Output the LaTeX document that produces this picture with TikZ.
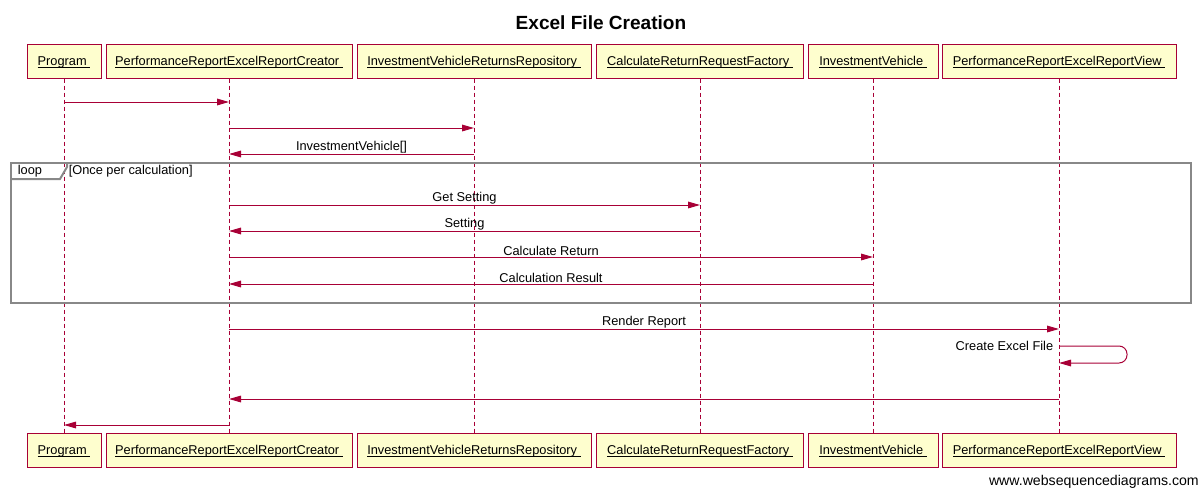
\documentclass[tikz,border=0pt]{standalone}
\usepackage{fontspec}
\setmainfont{Liberation Sans}
\usetikzlibrary{arrows.meta}
\definecolor{wsdred}{HTML}{A80036}
\definecolor{wsdfill}{HTML}{FEFECE}
\definecolor{wsdgray}{HTML}{888888}
\newsavebox{\lifebox}
\newcommand{\lifename}[1]{\sbox{\lifebox}{#1\ }\rlap{\rule[-1.6pt]{\wd\lifebox}{0.6pt}}\usebox{\lifebox}}
\tikzset{
    part/.style={draw=wsdred, fill=wsdfill, line width=0.75pt, minimum height=25.5pt,
        inner sep=0pt, text height=8pt, text depth=0.6pt, font=\fontsize{9.6}{11}\selectfont},
    life/.style={draw=wsdred, line width=0.75pt, dash pattern=on 3pt off 2.25pt},
    msg/.style={draw=wsdred, line width=0.75pt, -{Triangle[length=9pt,width=5pt]}},
    lbl/.style={font=\fontsize{9.6}{11}\selectfont, text=black, inner sep=0.4pt},
    loopbox/.style={draw=wsdgray, line width=1.5pt}
}
\begin{document}
\begin{tikzpicture}[x=0.75pt, y=-0.75pt]
    \useasboundingbox (0,0) rectangle (1201,489);
    \node[font=\bfseries\fontsize{14.3}{16}\selectfont] (title) at (601,23) {Excel File Creation};
    % participants and lifelines
    \foreach \n/\t/\x/\w in {prog/Program/64/74, crea/PerformanceReportExcelReportCreator/229/246,
        repo/InvestmentVehicleReturnsRepository/474/234, fact/CalculateReturnRequestFactory/700/207,
        veh/InvestmentVehicle/873/130, view/PerformanceReportExcelReportView/1059/234} {
        \node[part, minimum width=\w*0.75pt] (\n) at (\x,61) {\lifename{\t}};
        \node[part, minimum width=\w*0.75pt] (\n-b) at (\x,450) {\lifename{\t}};
        \draw[life] (\n.south) -- (\n-b.north);
    }
    % loop frame
    \draw[loopbox] (11,163) rectangle (1191,303);
    \draw[loopbox] (67,163) -- (67,167) -- (60,179) -- (11,179);
    \node[lbl, anchor=west] (looplbl) at (17,171) {loop};
    \node[lbl, anchor=west] (loopcond) at (68,171) {[Once per calculation]};
    % messages
    \draw[msg] (prog|-0,102) -- (crea|-0,102);
    \draw[msg] (crea|-0,128) -- (repo|-0,128);
    \draw[msg] (repo|-0,154) -- node[lbl, above] {InvestmentVehicle[]} (crea|-0,154);
    \draw[msg] (crea|-0,205) -- node[lbl, above] {Get Setting} (fact|-0,205);
    \draw[msg] (fact|-0,231) -- node[lbl, above] {Setting} (crea|-0,231);
    \draw[msg] (crea|-0,257) -- node[lbl, above] {Calculate Return} (veh|-0,257);
    \draw[msg] (veh|-0,284) -- node[lbl, above] {Calculation Result} (crea|-0,284);
    \draw[msg] (crea|-0,329) -- node[lbl, above] {Render Report} (view|-0,329);
    \draw[msg, rounded corners=6pt] (view|-0,346) node[lbl, left, inner sep=4pt] {Create Excel File}
        -- ++(68,0) -- ++(0,17) -- (view|-0,363);
    \draw[msg] (view|-0,399) -- (crea|-0,399);
    \draw[msg] (crea|-0,425) -- (prog|-0,425);
    \node[lbl, anchor=east, inner sep=0pt, font=\fontsize{10.6}{12}\selectfont] (wsd) at (1199,482) {www.websequencediagrams.com};
\end{tikzpicture}
\end{document}
